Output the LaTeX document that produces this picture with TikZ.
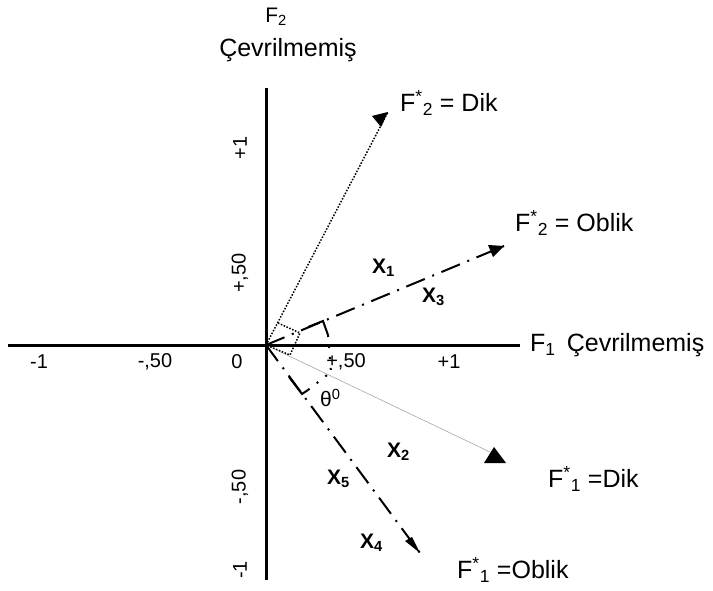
\documentclass[tikz,border=0pt]{standalone}
\usepackage{fontspec}
\setmainfont{Liberation Sans}
\usetikzlibrary{arrows.meta}
\tikzset{
  axis/.style={line width=3pt},
  dotvec/.style={line width=1.5pt, dash pattern=on 1.5pt off 1.6pt},
  obvec/.style={line width=2pt, dash pattern=on 20pt off 8pt on 2pt off 8pt},
  dikvec/.style={line width=0.6pt, black!35},
  marker/.style={line width=2pt},
  proj/.style={line width=2pt, dash pattern=on 2pt off 9pt},
  sq/.style={line width=1.5pt, dash pattern=on 1.5pt off 1.6pt},
  tick/.style={font=\fontsize{20}{24}\selectfont, inner sep=0pt},
  lab/.style={font=\fontsize{25}{30}\selectfont, inner sep=0pt, anchor=west},
  xlab/.style={font=\fontsize{21}{25}\selectfont\bfseries, inner sep=0pt, anchor=west}
}
\begin{document}
\begin{tikzpicture}[x=1pt,y=-1pt]
\useasboundingbox (0,0) rectangle (713,591);
% axes
\coordinate (O) at (266,345);
\coordinate (xl) at (8,345);
\coordinate (xr) at (520,345);
\coordinate (yt) at (266,88);
\coordinate (yb) at (266,580);
\draw[axis] (xl) -- (xr);
\draw[axis] (yt) -- (yb);
% tips
\coordinate (t2d) at (388,112);
\coordinate (t2o) at (504,246);
\coordinate (t1d) at (490,452);
\coordinate (t1o) at (420,553);
% vectors
\draw[dotvec] (O) -- (t2d);
\fill (t2d) -- ++(-16,4) -- ++(9,11) -- cycle;
\draw[obvec] (O) -- (t2o);
\fill (t2o) -- ++(-16,-1) -- ++(5,12) -- cycle;
\draw[dikvec] (O) -- (t1d);
\fill (494,447) -- (484,463) -- (506,463) -- cycle;
\draw[obvec] (O) -- (t1o);
\fill (t1o) -- ++(-15,-12) -- ++(7,-4) -- cycle;
% square marker at origin
\coordinate (sA) at (278,323);
\coordinate (sB) at (300,333);
\coordinate (sC) at (290,355);
\draw[sq] (sA) -- (sB) -- (sC) -- (O);
% right angle markers and projections
\coordinate (m1a) at (308,327);
\coordinate (m1b) at (323,321);
\coordinate (m1c) at (328,335);
\coordinate (m2a) at (289,377);
\coordinate (m2b) at (302,394);
\coordinate (m2c) at (308,390);
\coordinate (P) at (331,372);
\draw[marker] (m1a) -- (m1b) -- (m1c);
\draw[marker] (m2a) -- (m2b) -- (m2c);
\draw[proj] (m1c) -- (P);
\draw[proj] (m2c) -- (P);
% tick labels
\node[tick] (hm1) at (39,362) {-1};
\node[tick] (hm5) at (155,362) {-,50};
\node[tick] (h0) at (237,362) {0};
\node[tick] (hp5) at (346,362) {+,50};
\node[tick] (hp1) at (449,362) {+1};
\node[tick, rotate=90] (vp1) at (240,148) {+1};
\node[tick, rotate=90] (vp5) at (240,273) {+,50};
\node[tick, rotate=90] (vm5) at (240,487) {-,50};
\node[tick, rotate=90] (vm1) at (240,570) {-1};
% axis labels
\node[font=\fontsize{21}{25}\selectfont, inner sep=0pt] (f2) at (276,17) {F\textsubscript{2}};
\node[font=\fontsize{25}{30}\selectfont, inner sep=0pt] (cev) at (288,50) {Çevrilmemiş};
\node[lab] (f1) at (530,345) {F\textsubscript{1}\, Çevrilmemiş};
% vector labels
\node[lab] (l2d) at (400,103) {F\textsuperscript{*}\textsubscript{2} = Dik};
\node[lab] (l2o) at (515,223) {F\textsuperscript{*}\textsubscript{2} = Oblik};
\node[lab] (l1d) at (548,479) {F\textsuperscript{*}\textsubscript{1} =Dik};
\node[lab] (l1o) at (457,570) {F\textsuperscript{*}\textsubscript{1} =Oblik};
% variable labels
\node[xlab] (x1) at (372,268) {X\textsubscript{1}};
\node[xlab] (x3) at (422,297) {X\textsubscript{3}};
\node[xlab] (x2) at (387,452) {X\textsubscript{2}};
\node[xlab] (x5) at (327,479) {X\textsubscript{5}};
\node[xlab] (x4) at (360,543) {X\textsubscript{4}};
\node[font=\fontsize{21}{25}\selectfont, inner sep=0pt, anchor=west] (th) at (320,398) {θ\textsuperscript{0}};
\end{tikzpicture}
\end{document}
